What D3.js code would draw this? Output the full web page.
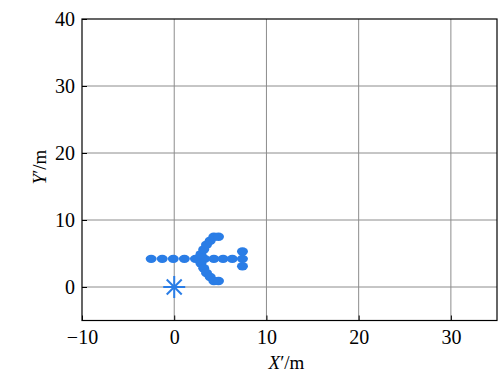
<!DOCTYPE html>
<html>
<head>
<meta charset="utf-8">
<script src="https://cdn.jsdelivr.net/npm/d3@7"></script>
<style>
  html, body { margin: 0; padding: 0; background: #fff; }
  svg { display: block; }
  text { font-family: "Liberation Serif", "Times New Roman", serif; fill: #000; }
</style>
</head>
<body>
<svg id="chart" width="498" height="373"></svg>
<script>
// Arrow-shaped formation of points (metres)
const pointsX = [-2.5, -1.3, -0.1, 1.1, 2.3, 3.3,
                 4.3, 5.3, 6.3, 7.4, 7.4, 7.4,
                 2.9, 3.2, 3.5, 3.9, 4.3, 4.8,
                 2.9, 3.2, 3.5, 3.9, 4.3, 4.8];
const pointsY = [4.2, 4.2, 4.2, 4.2, 4.2, 4.2,
                 4.2, 4.2, 4.2, 4.2, 5.3, 3.1,
                 4.9, 5.6, 6.3, 6.9, 7.5, 7.5,
                 3.5, 2.8, 2.1, 1.5, 0.9, 0.9];
// Reference (origin) marker
const originX = [0];
const originY = [0];
const xTicks = [-10, 0, 10, 20, 30];
const yTicks = [0, 10, 20, 30, 40];

const svg = d3.select("#chart");
const mLeft = 82, mRight = 497, mTop = 19, mBottom = 320.5;
const x = d3.scaleLinear().domain([-10, 35]).range([mLeft, mRight]);
const y = d3.scaleLinear().domain([-5, 40]).range([mBottom, mTop]);

// grid
const grid = svg.append("g").attr("stroke", "#8c8c8c").attr("stroke-width", 1);
xTicks.filter(t => t > -10).forEach(t => {
  grid.append("line").attr("x1", x(t)).attr("x2", x(t)).attr("y1", mTop).attr("y2", mBottom);
});
yTicks.filter(t => t < 40).forEach(t => {
  grid.append("line").attr("x1", mLeft).attr("x2", mRight).attr("y1", y(t)).attr("y2", y(t));
});

// axes with inward ticks
const xAxis = svg.append("g").attr("transform", `translate(0,${mBottom})`)
  .call(d3.axisBottom(x).tickValues(xTicks).tickSize(-5).tickPadding(9)
        .tickFormat(d => d < 0 ? "\u2212" + Math.abs(d) : d));
const yAxis = svg.append("g").attr("transform", `translate(${mLeft},0)`)
  .call(d3.axisLeft(y).tickValues(yTicks).tickSize(-5).tickPadding(7));
[xAxis, yAxis].forEach(a => {
  a.attr("font-family", "Liberation Serif").attr("font-size", 20);
  a.select(".domain").remove();
  a.selectAll(".tick line").attr("stroke", "#000");
});

// frame
svg.append("rect").attr("x", mLeft).attr("y", mTop)
  .attr("width", mRight - mLeft).attr("height", mBottom - mTop)
  .attr("fill", "none").attr("stroke", "#000").attr("stroke-width", 1.2);

// points
const color = "#2a7de6";
svg.append("g").selectAll("ellipse")
  .data(pointsX.map((v, i) => [v, pointsY[i]]))
  .join("ellipse")
  .attr("cx", d => x(d[0])).attr("cy", d => y(d[1]))
  .attr("rx", 5.5).attr("ry", 4.2)
  .attr("fill", color);

// origin asterisk
const star = svg.append("g").attr("stroke", color).attr("stroke-width", 2).attr("stroke-linecap", "butt");
originX.forEach((ox, i) => {
  const cx = x(ox), cy = y(originY[i]), r = 11, d = 7.5;
  star.append("line").attr("x1", cx - r).attr("x2", cx + r).attr("y1", cy).attr("y2", cy);
  star.append("line").attr("x1", cx).attr("x2", cx).attr("y1", cy - r).attr("y2", cy + r);
  star.append("line").attr("x1", cx - d).attr("x2", cx + d).attr("y1", cy - d).attr("y2", cy + d);
  star.append("line").attr("x1", cx - d).attr("x2", cx + d).attr("y1", cy + d).attr("y2", cy - d);
});

// axis titles
const xt = svg.append("text").attr("x", (mLeft + mRight) / 2 - 3).attr("y", 369)
  .attr("text-anchor", "middle").style("font-size", "19px");
xt.append("tspan").attr("font-style", "italic").text("X");
xt.append("tspan").text("\u2032/m");

const yt = svg.append("text")
  .attr("transform", `translate(46,167) rotate(-90)`)
  .attr("text-anchor", "middle").style("font-size", "19px");
yt.append("tspan").attr("font-style", "italic").text("Y");
yt.append("tspan").text("\u2032/m");
</script>
</body>
</html>
